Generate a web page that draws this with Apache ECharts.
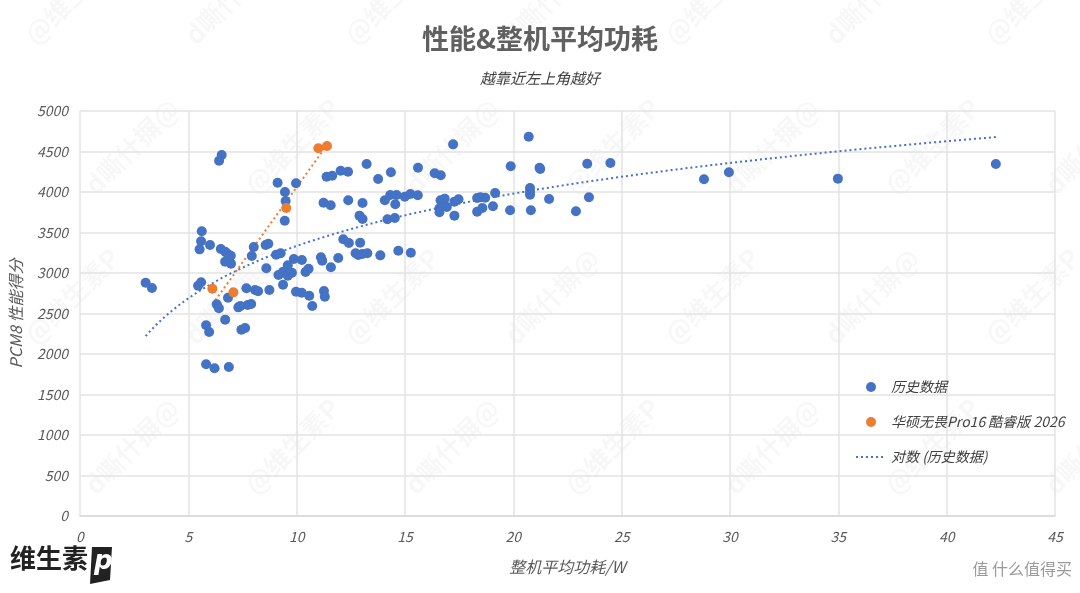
<!DOCTYPE html>
<html>
<head>
<meta charset="utf-8">
<script src="https://cdn.jsdelivr.net/npm/echarts@6/dist/echarts.min.js"></script>
<style>
  html, body { margin: 0; padding: 0; background: #fff; }
  #chart { width: 1080px; height: 593px; }
</style>
</head>
<body>
<div id="chart"></div>
<script>
// 历史数据 [整机平均功耗 W, PCM8 性能得分]
const historyPoints = [
  [3.03, 2880], [3.32, 2815], [5.45, 2843], [5.59, 2885], [5.62, 3515], [5.59, 3391],
  [6.0, 3346], [5.52, 3292], [6.54, 4457], [6.42, 4386], [6.5, 3296], [6.7, 3263],
  [6.82, 3235], [6.96, 3214], [6.7, 3140], [6.97, 3115], [6.83, 2695], [6.31, 2613],
  [6.41, 2564], [6.7, 2424], [5.82, 2354], [5.96, 2272], [5.82, 1873], [6.21, 1823],
  [6.87, 1840], [7.31, 2576], [7.4, 2593], [7.74, 2605], [7.9, 2617], [7.45, 2300],
  [7.62, 2321], [7.68, 2811], [8.08, 2790], [8.22, 2774], [8.74, 2790], [8.02, 3321],
  [7.93, 3210], [8.57, 3346], [8.69, 3362], [8.6, 3058], [9.12, 4115], [9.97, 4107],
  [9.46, 4000], [9.49, 3889], [9.45, 3646], [9.05, 3226], [9.26, 3243], [9.87, 3173],
  [10.24, 3160], [9.59, 3095], [9.16, 2975], [9.37, 3016], [9.59, 2967], [9.78, 3004],
  [10.41, 3012], [10.55, 3053], [9.37, 2856], [9.97, 2769], [10.23, 2757], [10.58, 2720],
  [10.72, 2593], [11.12, 3195], [11.18, 3152], [11.24, 3868], [11.57, 3836], [11.38, 4189],
  [11.64, 4201], [12.03, 4263], [12.37, 4251], [13.23, 4346], [13.76, 4160], [14.35, 4243],
  [15.6, 4300], [16.37, 4231], [16.65, 4206], [17.22, 4588], [12.38, 3898], [13.04, 3864],
  [14.07, 3898], [14.32, 3963], [14.61, 3963], [14.99, 3942], [15.25, 3975], [15.59, 3959],
  [14.55, 3848], [12.9, 3708], [13.04, 3667], [14.19, 3663], [14.53, 3679], [16.64, 3898],
  [16.83, 3918], [17.28, 3881], [17.47, 3910], [18.33, 3926], [18.48, 3934], [18.7, 3930],
  [16.59, 3798], [16.93, 3815], [16.59, 3749], [17.28, 3708], [18.33, 3757], [18.57, 3802],
  [19.06, 3823], [19.16, 3988], [19.85, 3774], [19.88, 4317], [20.71, 4683], [20.77, 4049],
  [20.77, 4004], [20.77, 3967], [20.81, 3774], [21.21, 4300], [21.24, 4284], [21.65, 3914],
  [22.89, 3762], [23.41, 4349], [23.49, 3935], [24.48, 4358], [12.15, 3416], [12.41, 3370],
  [12.93, 3374], [11.92, 3185], [12.72, 3243], [12.84, 3222], [13.03, 3235], [13.26, 3243],
  [13.86, 3218], [14.69, 3275], [15.27, 3251], [11.58, 3070], [11.26, 2778], [11.3, 2707],
  [28.8, 4157], [29.95, 4243], [34.98, 4165], [42.27, 4346],
]

// 华硕无畏Pro16 酷睿版 2026
const asusPoints = [
  [6.11, 2806], [7.08, 2761], [9.52, 3802], [11.0, 4540], [11.4, 4568],
]

const xTicks = [0, 5, 10, 15, 20, 25, 30, 35, 40, 45]
const yTicks = [0, 500, 1000, 1500, 2000, 2500, 3000, 3500, 4000, 4500, 5000]

const BLUE = '#4472C4'
const ORANGE = '#ED7D31'
const TEXT = '#595959'
const FONT = '"Liberation Sans Narrow", "Noto Sans CJK SC", sans-serif'

// excel 风格的趋势线：历史数据用对数拟合，华硕用线性拟合
function fitLog(pts) {
  const n = pts.length
  let sl = 0, sy = 0, sll = 0, sly = 0
  pts.forEach(([x, y]) => {
    const l = Math.log(x)
    sl += l; sy += y; sll += l * l; sly += l * y
  })
  const a = (n * sly - sl * sy) / (n * sll - sl * sl)
  const b = (sy - a * sl) / n
  return x => a * Math.log(x) + b
}

function fitLinear(pts) {
  const n = pts.length
  let sx = 0, sy = 0, sxx = 0, sxy = 0
  pts.forEach(([x, y]) => { sx += x; sy += y; sxx += x * x; sxy += x * y })
  const a = (n * sxy - sx * sy) / (n * sxx - sx * sx)
  const b = (sy - a * sx) / n
  return x => a * x + b
}

function curve(pts, fn, steps) {
  const xs = pts.map(p => p[0])
  const lo = Math.min(...xs), hi = Math.max(...xs)
  const out = []
  for (let i = 0; i <= steps; i++) {
    const x = lo + (hi - lo) * i / steps
    out.push([x, fn(x)])
  }
  return out
}

const logTrend = curve(historyPoints, fitLog(historyPoints), 160)
const asusTrend = curve(asusPoints, fitLinear(asusPoints), 2)

const chart = echarts.init(document.getElementById('chart'), null, { renderer: 'canvas' })

const watermarks = []
for (let r = 0; r < 4; r++) {
  for (let c = 0; c < 7; c++) {
    watermarks.push({
      type: 'text',
      x: 20 + c * 160 + (r % 2) * 60,
      y: 30 + r * 150,
      rotation: Math.PI / 4,
      silent: true,
      z: 0,
      style: {
        text: (r + c) % 2 ? 'd嘶什摒@' : '@维生素P',
        fill: 'rgba(0,0,0,0.03)',
        font: 'bold 26px "Noto Sans CJK SC"',
      },
    })
  }
}

chart.setOption({
  animation: false,
  backgroundColor: '#fff',
  textStyle: { fontFamily: FONT },
  title: [
    {
      text: '性能&整机平均功耗',
      left: 'center',
      top: 20,
      textStyle: { color: '#606060', fontSize: 27, fontWeight: 'bold', fontFamily: '"Noto Sans CJK SC"' },
    },
    {
      text: '越靠近左上角越好',
      left: 'center',
      top: 66,
      textStyle: { color: '#404040', fontSize: 15, fontStyle: 'italic', fontWeight: 'normal', fontFamily: '"Noto Sans CJK SC"' },
    },
  ],
  grid: { left: 78, right: 25, top: 111, bottom: 77, containLabel: false },
  xAxis: {
    type: 'value',
    min: xTicks[0],
    max: xTicks[xTicks.length - 1],
    interval: 5,
    name: '整机平均功耗/W',
    nameLocation: 'middle',
    nameGap: 43,
    nameTextStyle: { color: TEXT, fontSize: 16, fontStyle: 'italic', fontFamily: FONT },
    axisLine: { lineStyle: { color: '#d9d9d9', width: 1.5 } },
    axisTick: { show: false },
    axisLabel: { color: TEXT, fontSize: 14, fontStyle: 'italic', margin: 14 },
    splitLine: { show: true, lineStyle: { color: '#e3e3e3', width: 1.5 } },
  },
  yAxis: {
    type: 'value',
    min: yTicks[0],
    max: yTicks[yTicks.length - 1],
    interval: 500,
    name: 'PCM8 性能得分',
    nameLocation: 'middle',
    nameGap: 56,
    nameTextStyle: { color: TEXT, fontSize: 16, fontStyle: 'italic', fontFamily: FONT },
    axisLine: { show: false },
    axisTick: { show: false },
    axisLabel: { color: TEXT, fontSize: 14, fontStyle: 'italic', margin: 12, formatter: v => String(v) },
    splitLine: { lineStyle: { color: '#e3e3e3', width: 1.5 } },
  },
  legend: {
    orient: 'vertical',
    left: 850,
    top: 375,
    itemGap: 21,
    itemWidth: 30,
    itemHeight: 10,
    textStyle: { color: '#404040', fontSize: 14, fontStyle: 'italic', fontFamily: FONT },
    data: [
      { name: '历史数据', icon: 'circle' },
      { name: '华硕无畏Pro16 酷睿版 2026', icon: 'circle' },
      { name: '对数 (历史数据)', itemStyle: { opacity: 0 } },
    ],
  },
  graphic: [
    ...watermarks,
    {
      type: 'text',
      left: 10,
      top: 545,
      style: { text: '维生素', fill: '#222', font: 'bold 26px "Noto Sans CJK SC"' },
    },
    {
      type: 'polygon',
      shape: { points: [[92, 547], [112, 547], [110, 580], [90, 584]] },
      style: { fill: '#222' },
    },
    {
      type: 'text',
      left: 94,
      top: 549,
      style: { text: 'p', fill: '#fff', font: 'italic bold 26px "DejaVu Sans"' },
    },
    {
      type: 'text',
      right: 8,
      top: 561,
      style: { text: '值 什么值得买', fill: '#9a9a9a', font: '16px "Noto Sans CJK SC"' },
    },
  ],
  series: [
    {
      name: '历史数据',
      type: 'scatter',
      data: historyPoints,
      symbolSize: 10,
      itemStyle: { color: BLUE, opacity: 1 },
      z: 3,
    },
    {
      name: '华硕无畏Pro16 酷睿版 2026',
      type: 'scatter',
      data: asusPoints,
      symbolSize: 10,
      itemStyle: { color: ORANGE, opacity: 1 },
      z: 4,
    },
    {
      name: '对数 (历史数据)',
      type: 'line',
      data: logTrend,
      symbol: 'none',
      smooth: false,
      lineStyle: { color: BLUE, width: 2, type: [2, 3] },
      itemStyle: { color: BLUE },
      z: 2,
    },
    {
      name: 'asus-trend',
      type: 'line',
      data: asusTrend,
      symbol: 'none',
      lineStyle: { color: ORANGE, width: 2, type: [2, 3] },
      z: 2,
    },
  ],
})
</script>
</body>
</html>
